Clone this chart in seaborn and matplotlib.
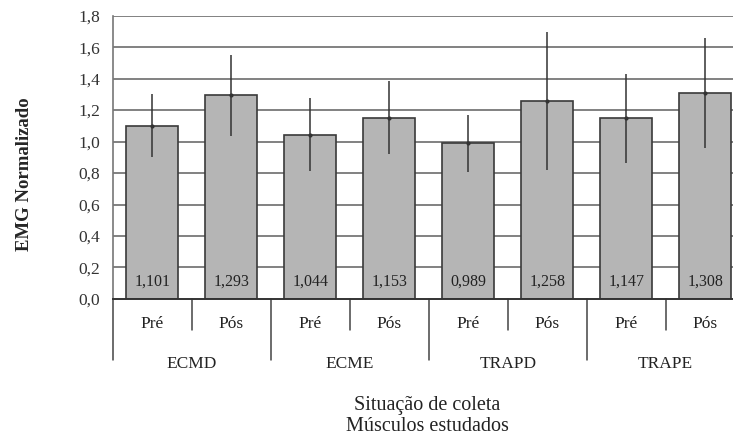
import numpy as np
import pandas as pd
import seaborn as sns
import matplotlib.pyplot as plt
import matplotlib.transforms as mtransforms

# values
musculos = ['ECMD', 'ECME', 'TRAPD', 'TRAPE']
situacoes = ['Pré', 'Pós']
medias = [1.101, 1.293, 1.044, 1.153, 0.989, 1.258, 1.147, 1.308]
desvios = [0.20, 0.26, 0.23, 0.23, 0.18, 0.44, 0.28, 0.35]
yticks = [0.0, 0.2, 0.4, 0.6, 0.8, 1.0, 1.2, 1.4, 1.6, 1.8]

df = pd.DataFrame({
    'musculo': np.repeat(musculos, 2),
    'situacao': situacoes * len(musculos),
    'emg': medias,
    'dp': desvios,
})
df['barra'] = df['musculo'] + ' ' + df['situacao']

sns.set_style('white')
plt.rcParams['font.family'] = ['Liberation Serif', 'DejaVu Serif']

fig = plt.figure(figsize=(7.33, 4.37), dpi=100)
ax = fig.add_axes([0.154, 0.316, 0.862, 0.648])

grid_c = '#777777'
for v in yticks[1:]:
    ax.axhline(v, color=grid_c, lw=1.3, zorder=0)

sns.barplot(data=df, x='barra', y='emg', color='#b5b5b5', width=0.66,
            edgecolor='#3a3a3a', linewidth=1.2, saturation=1, ax=ax, zorder=2)
ax.errorbar(np.arange(len(df)), df['emg'], yerr=df['dp'], fmt='o', ms=2,
            color='#333333', elinewidth=1.1, capsize=0, zorder=3)

for i, v in enumerate(df['emg']):
    ax.text(i, 0.11, f'{v:.3f}'.replace('.', ','), ha='center', va='center',
            fontsize=11.5, color='#222222', zorder=4)

ax.set_xlim(-0.5, len(df) - 0.5)
ax.set_ylim(0, 1.8)
ax.set_yticks(yticks)
ax.set_yticklabels([f'{t:.1f}'.replace('.', ',') for t in yticks], fontsize=12.5, color='#333333')
ax.tick_params(axis='y', direction='out', length=5, width=1.1, color=grid_c, pad=4)
ax.set_xticks([])
ax.set_xlabel('')
ax.set_ylabel('EMG Normalizado', fontsize=13.5, fontweight='bold')
ax.yaxis.set_label_coords(-0.127, 0.44)

for s in ['top', 'right']:
    ax.spines[s].set_visible(False)
ax.spines['left'].set_color(grid_c)
ax.spines['left'].set_linewidth(1.2)
ax.spines['bottom'].set_color('#333333')
ax.spines['bottom'].set_linewidth(1.4)

# multi-level category axis below
trans = mtransforms.blended_transform_factory(ax.transData, ax.transAxes)
for i in range(len(df) + 1):
    x = i - 0.5
    low = -0.215 if i % 2 == 0 else -0.11
    ax.plot([x, x], [0, low], transform=trans, color='#444444', lw=1.1, clip_on=False)
for i, s in enumerate(df['situacao']):
    ax.text(i, -0.088, s, transform=trans, ha='center', va='center', fontsize=12.5, color='#222222')
for j, m in enumerate(musculos):
    ax.text(2 * j + 0.5, -0.23, m, transform=trans, ha='center', va='center', fontsize=12.5, color='#222222')

fig.text(0.583, 0.048, 'Situação de coleta\nMúsculos estudados', ha='center', va='center',
         fontsize=14.5, color='#222222', linespacing=1.1)

fig.savefig('out.png', dpi=100)
